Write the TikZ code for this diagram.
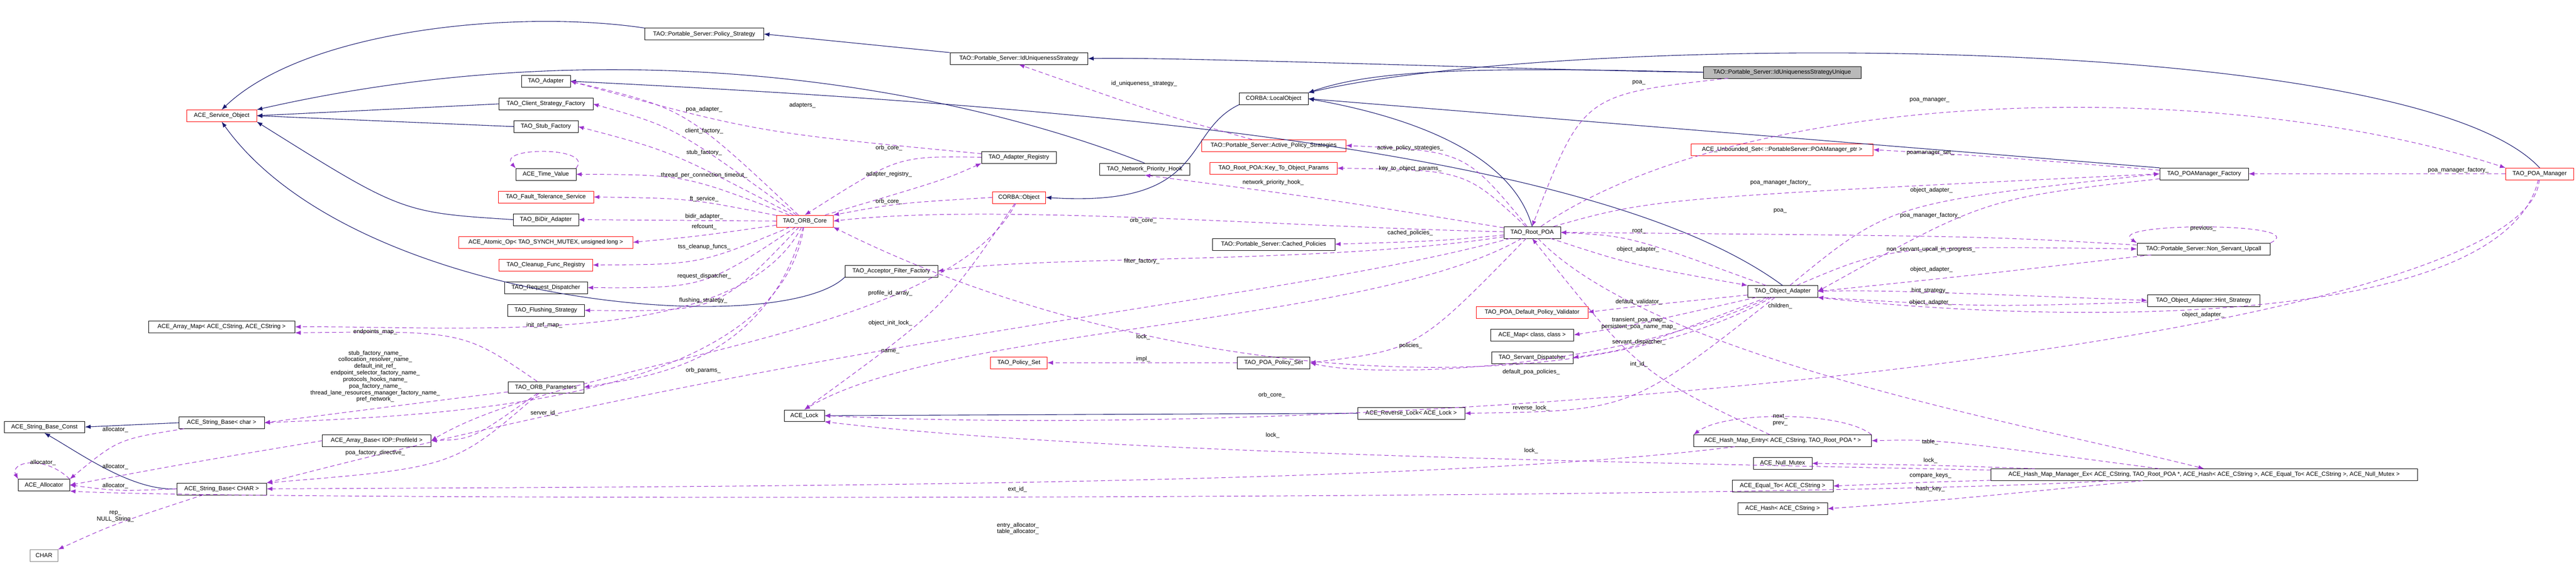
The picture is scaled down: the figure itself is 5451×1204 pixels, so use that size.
\documentclass[tikz,border=0pt]{standalone}
\usepackage{fontspec}
\setmainfont{Liberation Sans}
\usetikzlibrary{arrows.meta}

\definecolor{inhcol}{HTML}{191970}
\definecolor{usecol}{HTML}{9A32CD}

\tikzset{
  cls/.style={draw=black, fill=white, minimum height=25pt, inner xsep=5pt, font=\fontsize{12.5}{14}\selectfont},
  redcls/.style={cls, draw=red},
  lab/.style={font=\fontsize{12.5}{14}\selectfont, inner sep=1pt, align=center},
  inh/.style={draw=inhcol, line width=1.2pt, -{Latex[length=12pt,width=9pt]}},
  use/.style={draw=usecol, line width=1.1pt, dash pattern=on 9pt off 6pt, -{Latex[length=12pt,width=9pt]}}
}

\begin{document}
\begin{tikzpicture}[x=1pt, y=-1pt]

    \useasboundingbox (0,0) rectangle (5451,1204);

    % Classes, left column
    \node[redcls, minimum width=148] (svc) at (469,245) {ACE\_Service\_Object};
    \node[cls, minimum width=310] (amap) at (469,692) {ACE\_Array\_Map< ACE\_CString, ACE\_CString >};
    \node[cls, minimum width=180] (sbchar) at (469,895) {ACE\_String\_Base< char >};
    \node[cls, minimum width=171] (sbconst) at (94,904) {ACE\_String\_Base\_Const};
    \node[cls, minimum width=230] (abase) at (797,933) {ACE\_Array\_Base< IOP::ProfileId >};
    \node[cls, minimum width=109] (alloc) at (93,1027) {ACE\_Allocator};
    \node[cls, minimum width=190] (sbCHAR) at (469,1035) {ACE\_String\_Base< CHAR >};
    \node[cls, draw=gray, minimum width=59] (charn) at (93,1176) {CHAR};

    % Classes around the ORB core
    \node[cls, minimum width=252] (pstrat) at (1490,72) {TAO::Portable\_Server::Policy\_Strategy};
    \node[cls, minimum width=103] (adapter) at (1155,172) {TAO\_Adapter};
    \node[cls, minimum width=199] (csf) at (1155,220) {TAO\_Client\_Strategy\_Factory};
    \node[cls, minimum width=136] (stubf) at (1155,268) {TAO\_Stub\_Factory};
    \node[cls, minimum width=127] (timev) at (1155,369) {ACE\_Time\_Value};
    \node[redcls, minimum width=202] (fts) at (1155,417) {TAO\_Fault\_Tolerance\_Service};
    \node[cls, minimum width=138] (bidir) at (1155,465) {TAO\_BiDir\_Adapter};
    \node[redcls, minimum width=368] (atomic) at (1155,513) {ACE\_Atomic\_Op< TAO\_SYNCH\_MUTEX, unsigned long >};
    \node[redcls, minimum width=198] (cleanup) at (1155,561) {TAO\_Cleanup\_Func\_Registry};
    \node[cls, minimum width=176] (reqd) at (1155,609) {TAO\_Request\_Dispatcher};
    \node[cls, minimum width=163] (flush) at (1155,657) {TAO\_Flushing\_Strategy};
    \node[cls, minimum width=160] (orbp) at (1155,820) {TAO\_ORB\_Parameters};
    \node[redcls, minimum width=120] (orb) at (1703,468) {TAO\_ORB\_Core};
    \node[cls, minimum width=196] (aff) at (1886,574) {TAO\_Acceptor\_Filter\_Factory};
    \node[cls, minimum width=85] (lock) at (1702,880) {ACE\_Lock};

    % Middle
    \node[cls, minimum width=292] (idu) at (2156,124) {TAO::Portable\_Server::IdUniquenessStrategy};
    \node[cls, minimum width=146] (lobj) at (2695,209) {CORBA::LocalObject};
    \node[cls, minimum width=158] (areg) at (2156,333) {TAO\_Adapter\_Registry};
    \node[cls, minimum width=191] (nph) at (2422,358) {TAO\_Network\_Priority\_Hook};
    \node[redcls, minimum width=306] (aps) at (2695,308) {TAO::Portable\_Server::Active\_Policy\_Strategies};
    \node[redcls, minimum width=269] (ktop) at (2695,356) {TAO\_Root\_POA::Key\_To\_Object\_Params};
    \node[redcls, minimum width=113] (cobj) at (2156,418) {CORBA::Object};
    \node[cls, minimum width=259] (cpol) at (2695,517) {TAO::Portable\_Server::Cached\_Policies};
    \node[redcls, minimum width=120] (pset) at (2156,768) {TAO\_Policy\_Set};
    \node[cls, minimum width=154] (ppset) at (2695,768) {TAO\_POA\_Policy\_Set};
    \node[cls, minimum width=227] (rlock) at (2986,875) {ACE\_Reverse\_Lock< ACE\_Lock >};

    % POA side
    \node[cls, fill=gray!55, minimum width=333] (unique) at (3771,153) {TAO::Portable\_Server::IdUniquenessStrategyUnique};
    \node[redcls, minimum width=385] (uset) at (3771,317) {ACE\_Unbounded\_Set< ::PortableServer::POAManager\_ptr >};
    \node[cls, minimum width=120] (rpoa) at (3242,492) {TAO\_Root\_POA};
    \node[cls, minimum width=148] (oa) at (3772,617) {TAO\_Object\_Adapter};
    \node[redcls, minimum width=236] (dpv) at (3242,661) {TAO\_POA\_Default\_Policy\_Validator};
    \node[cls, minimum width=176] (amapcc) at (3242,709) {ACE\_Map< class, class >};
    \node[cls, minimum width=172] (sdisp) at (3242,757) {TAO\_Servant\_Dispatcher};
    \node[cls, minimum width=376] (hme) at (3772,933) {ACE\_Hash\_Map\_Entry< ACE\_CString, TAO\_Root\_POA * >};
    \node[cls, minimum width=124] (nmutex) at (3772,981) {ACE\_Null\_Mutex};
    \node[cls, minimum width=214] (eqto) at (3772,1029) {ACE\_Equal\_To< ACE\_CString >};
    \node[cls, minimum width=190] (hash) at (3772,1077) {ACE\_Hash< ACE\_CString >};
    \node[cls, minimum width=188] (pmf) at (4664,368) {TAO\_POAManager\_Factory};
    \node[redcls, minimum width=144] (pman) at (5374,368) {TAO\_POA\_Manager};
    \node[cls, minimum width=282] (nsu) at (4663,527) {TAO::Portable\_Server::Non\_Servant\_Upcall};
    \node[cls, minimum width=238] (hint) at (4663,636) {TAO\_Object\_Adapter::Hint\_Strategy};
    \node[cls, minimum width=902] (hmm) at (4664,1005) {ACE\_Hash\_Map\_Manager\_Ex< ACE\_CString, TAO\_Root\_POA *, ACE\_Hash< ACE\_CString >, ACE\_Equal\_To< ACE\_CString >, ACE\_Null\_Mutex >};

    % Inheritance
    \draw[inh] (unique.west) .. controls (3300,150) and (2500,120) .. (idu.east);
    \draw[inh] (unique.west) .. controls (3100,140) and (2900,150) .. (lobj.north east);
    \draw[inh] (pman.north) .. controls (5100,60) and (3300,70) .. (lobj.north east);
    \draw[inh] (idu.north west) -- (pstrat.east);
    \draw[inh] (pstrat.north west) .. controls (1100,20) and (650,60) .. (svc.north);
    \draw[inh] (nph.north) .. controls (2000,180) and (1300,60) .. (svc.north east);
    \draw[inh] (csf.west) -- (svc.east);
    \draw[inh] (stubf.west) -- (svc.east);
    \draw[inh] (bidir.west) .. controls (850,450) .. (svc.south east);
    \draw[inh] (aff.south west) .. controls (1650,720) and (750,650) .. (svc.south);
    \draw[inh] (pmf.north west) -- (lobj.east);
    \draw[inh] (rpoa.north) .. controls (3200,330) and (3000,250) .. (lobj.east);
    \draw[inh] (lobj.south west) .. controls (2500,280) and (2560,440) .. (cobj.east);
    \draw[inh] (oa.north) .. controls (3400,330) and (2400,230) .. (adapter.east);
    \draw[inh] (rlock.west) -- (lock.east);
    \draw[inh] (sbchar.west) -- (sbconst.east);
    \draw[inh] (sbCHAR.west) .. controls (280,1040) and (170,960) .. (sbconst.south);

    % Members of the ORB core
    \draw[use] (orb) .. controls (1450,230) .. (adapter.east);
    \draw[use] (orb) .. controls (1430,270) .. (csf.east);
    \draw[use] (orb) .. controls (1420,320) .. (stubf.east);
    \draw[use] (orb) .. controls (1450,370) .. (timev.east);
    \draw[use] (orb) .. controls (1460,420) .. (fts.east);
    \draw[use] (orb.west) -- (bidir.east);
    \draw[use] (orb) .. controls (1480,500) .. (atomic.east);
    \draw[use] (orb) .. controls (1480,560) .. (cleanup.east);
    \draw[use] (orb) .. controls (1490,610) .. (reqd.east);
    \draw[use] (orb) .. controls (1520,660) .. (flush.east);
    \draw[use] (orb) .. controls (1560,740) and (1000,690) .. (amap.east);
    \draw[use] (orb) .. controls (1620,780) and (1350,800) .. (orbp.east);
    \draw[use] (orb) .. controls (1640,860) and (900,880) .. (sbchar.east);
    \draw[use] (timev.north east) .. controls (1260,310) and (1050,310) .. (timev.north west);
    \draw[use] (orb) .. controls (2000,380) .. (areg.south west);
    \draw[use] (areg) .. controls (1600,280) .. (adapter.east);
    \draw[use] (areg.west) .. controls (1900,330) .. (orb.north);
    \draw[use] (cobj.west) .. controls (1900,430) .. (orb.north east);
    \draw[use] (cobj) .. controls (2000,650) .. (lock.north);
    \draw[use] (cobj) .. controls (2000,720) and (1200,760) .. (abase.east);

    % Parameters and strings
    \draw[use] (orbp) .. controls (980,700) .. (amap.south east);
    \draw[use] (orbp) .. controls (990,840) .. (sbchar.east);
    \draw[use] (orbp) .. controls (1000,930) .. (abase.east);
    \draw[use] (orbp) .. controls (960,990) .. (sbCHAR.north east);
    \draw[use] (sbchar) .. controls (250,930) .. (alloc.north east);
    \draw[use] (abase.west) .. controls (400,980) .. (alloc.east);
    \draw[use] (sbCHAR.west) .. controls (250,1040) .. (alloc.east);
    \draw[use] (sbCHAR) .. controls (240,1110) .. (charn.north east);
    \draw[use] (alloc.north east) .. controls (90,960) and (20,980) .. (alloc.north west);

    % Root POA members
    \draw[use] (unique) .. controls (3350,200) .. (rpoa.north);
    \draw[use] (aps) .. controls (2450,240) .. (idu.south);
    \draw[use] (rpoa) .. controls (3100,320) .. (aps.east);
    \draw[use] (rpoa) .. controls (3100,360) .. (ktop.east);
    \draw[use] (rpoa) .. controls (2800,420) .. (nph.south);
    \draw[use] (rpoa) .. controls (2700,480) and (2100,430) .. (orb.east);
    \draw[use] (rpoa) .. controls (3050,510) .. (cpol.east);
    \draw[use] (rpoa) .. controls (2800,560) and (2200,540) .. (aff.east);
    \draw[use] (rpoa) .. controls (2900,690) and (2000,690) .. (lock.north);
    \draw[use] (rpoa) .. controls (3000,740) .. (ppset.east);
    \draw[use] (rpoa) .. controls (2700,640) and (1800,700) .. (sbCHAR.north east);
    \draw[use] (ppset.west) -- (pset.east);
    \draw[use] (rpoa) .. controls (3450,560) .. (oa.north west);
    \draw[use] (rpoa) .. controls (3500,420) .. (pmf.west);
    \draw[use] (rpoa) .. controls (3700,180) and (4700,160) .. (pman.north west);
    \draw[use] (rpoa) .. controls (3500,760) and (4300,900) .. (hmm.north);

    % Object adapter members
    \draw[use] (oa) .. controls (3450,500) .. (rpoa.east);
    \draw[use] (oa) .. controls (3450,650) .. (dpv.east);
    \draw[use] (oa) .. controls (3450,690) .. (amapcc.east);
    \draw[use] (oa) .. controls (3450,740) .. (sdisp.east);
    \draw[use] (oa) .. controls (3400,790) and (2900,800) .. (ppset.east);
    \draw[use] (oa) .. controls (3450,870) .. (rlock.east);
    \draw[use] (oa) .. controls (3300,880) and (2400,800) .. (orb.south east);
    \draw[use] (oa) .. controls (4000,430) .. (pmf.west);
    \draw[use] (oa) .. controls (4000,520) .. (nsu.west);
    \draw[use] (oa) .. controls (4000,615) .. (hint.west);
    \draw[use] (pmf) .. controls (4200,330) .. (uset.east);
    \draw[use] (pmf) .. controls (4200,420) .. (oa.east);
    \draw[use] (nsu) .. controls (4200,500) .. (rpoa.east);
    \draw[use] (nsu) .. controls (4200,580) .. (oa.east);
    \draw[use] (nsu.north east) .. controls (4900,470) and (4450,470) .. (nsu.north west);
    \draw[use] (hint) .. controls (4200,650) .. (oa.south east);
    \draw[use] (pman) .. controls (5300,690) and (4400,690) .. (oa.south east);
    \draw[use] (pman) .. controls (5350,720) and (3000,940) .. (lock.east);
    \draw[use] (pman.west) -- (pmf.east);

    % Hash map
    \draw[use] (hme) .. controls (3470,790) .. (rpoa.south);
    \draw[use] (hme) .. controls (3000,1030) and (1500,1030) .. (sbCHAR.east);
    \draw[use] (hme.north east) .. controls (3900,870) and (3650,870) .. (hme.north west);
    \draw[use] (hmm) .. controls (4100,930) .. (hme.east);
    \draw[use] (hmm) .. controls (4100,985) .. (nmutex.east);
    \draw[use] (hmm) .. controls (4100,1020) .. (eqto.east);
    \draw[use] (hmm) .. controls (4100,1060) .. (hash.east);
    \draw[use] (hmm) .. controls (3500,980) and (2300,960) .. (lock.south east);
    \draw[use] (hmm) .. controls (3800,1060) and (500,1060) .. (alloc.south east);

    % Member names
    \node[lab] (l1) at (1490,232) {poa\_adapter\_};
    \node[lab] (l2) at (1490,277) {client\_factory\_};
    \node[lab] (l3) at (1490,323) {stub\_factory\_};
    \node[lab] (l4) at (1490,371) {thread\_per\_connection\_timeout\_};
    \node[lab] (l5) at (1490,421) {ft\_service\_};
    \node[lab] (l6) at (1490,459) {bidir\_adapter\_};
    \node[lab] (l7) at (1490,480) {refcount\_};
    \node[lab] (l8) at (1490,523) {tss\_cleanup\_funcs\_};
    \node[lab] (l9) at (1490,585) {request\_dispatcher\_};
    \node[lab] (l10) at (1488,636) {flushing\_strategy\_};
    \node[lab] (l11) at (1152,688) {init\_ref\_map\_};
    \node[lab] (l12) at (1488,784) {orb\_params\_};
    \node[lab] (l13) at (1152,875) {server\_id\_};
    \node[lab] (l14) at (1698,223) {adapters\_};
    \node[lab] (l15) at (1881,313) {orb\_core\_};
    \node[lab] (l16) at (1881,369) {adapter\_registry\_};
    \node[lab] (l17) at (1881,427) {orb\_core\_};
    \node[lab] (l18) at (1884,621) {profile\_id\_array\_};
    \node[lab] (l19) at (1884,684) {object\_init\_lock\_};
    \node[lab] (l20) at (1884,744) {name\_};
    \node[lab] (l21) at (794,703) {endpoints\_map\_};
    \node[lab] (l22) at (794,797) {stub\_factory\_name\_\\collocation\_resolver\_name\_\\default\_init\_ref\_\\endpoint\_selector\_factory\_name\_\\protocols\_hooks\_name\_\\poa\_factory\_name\_\\thread\_lane\_resources\_manager\_factory\_name\_\\pref\_network\_};
    \node[lab] (l23) at (794,959) {poa\_factory\_directive\_};
    \node[lab] (l24) at (244,910) {allocator\_};
    \node[lab] (l25) at (91,980) {allocator\_};
    \node[lab] (l26) at (244,988) {allocator\_};
    \node[lab] (l27) at (244,1029) {allocator\_};
    \node[lab] (l28) at (244,1094) {rep\_\\NULL\_String\_};
    \node[lab] (l29) at (2421,177) {id\_uniqueness\_strategy\_};
    \node[lab] (l30) at (2694,387) {network\_priority\_hook\_};
    \node[lab] (l31) at (2419,467) {orb\_core\_};
    \node[lab] (l32) at (2416,553) {filter\_factory\_};
    \node[lab] (l33) at (2984,313) {active\_policy\_strategies\_};
    \node[lab] (l34) at (2984,357) {key\_to\_object\_params\_};
    \node[lab] (l35) at (2984,493) {cached\_policies\_};
    \node[lab] (l36) at (2419,713) {lock\_};
    \node[lab] (l37) at (2419,760) {impl\_};
    \node[lab] (l38) at (2985,732) {policies\_};
    \node[lab] (l39) at (2691,837) {orb\_core\_};
    \node[lab] (l40) at (2693,922) {lock\_};
    \node[lab] (l41) at (2153,1036) {ext\_id\_};
    \node[lab] (l42) at (2154,1119) {entry\_allocator\_\\table\_allocator\_};
    \node[lab] (l43) at (3468,175) {poa\_};
    \node[lab] (l44) at (3768,387) {poa\_manager\_factory\_};
    \node[lab] (l45) at (3767,447) {poa\_};
    \node[lab] (l46) at (3468,489) {root\_};
    \node[lab] (l47) at (3466,528) {object\_adapter\_};
    \node[lab] (l48) at (3468,639) {default\_validator\_};
    \node[lab] (l49) at (3468,685) {transient\_poa\_map\_\\persistent\_poa\_name\_map\_};
    \node[lab] (l50) at (3767,648) {children\_};
    \node[lab] (l51) at (3468,725) {servant\_dispatcher\_};
    \node[lab] (l52) at (3468,771) {int\_id\_};
    \node[lab] (l53) at (3240,788) {default\_poa\_policies\_};
    \node[lab] (l54) at (3240,864) {reverse\_lock\_};
    \node[lab] (l55) at (3767,889) {next\_\\prev\_};
    \node[lab] (l56) at (3240,954) {lock\_};
    \node[lab] (l57) at (4083,212) {poa\_manager\_};
    \node[lab] (l58) at (4085,324) {poamanager\_set\_};
    \node[lab] (l59) at (4087,403) {object\_adapter\_};
    \node[lab] (l60) at (4085,456) {poa\_manager\_factory\_};
    \node[lab] (l61) at (4662,483) {previous\_};
    \node[lab] (l62) at (4086,528) {non\_servant\_upcall\_in\_progress\_};
    \node[lab] (l63) at (4087,571) {object\_adapter\_};
    \node[lab] (l64) at (5202,360) {poa\_manager\_factory\_};
    \node[lab] (l65) at (4084,615) {hint\_strategy\_};
    \node[lab] (l66) at (4085,640) {object\_adapter\_};
    \node[lab] (l67) at (4662,667) {object\_adapter\_};
    \node[lab] (l68) at (4084,936) {table\_};
    \node[lab] (l69) at (4085,975) {lock\_};
    \node[lab] (l70) at (4085,1007) {compare\_keys\_};
    \node[lab] (l71) at (4085,1035) {hash\_key\_};

\end{tikzpicture}
\end{document}
